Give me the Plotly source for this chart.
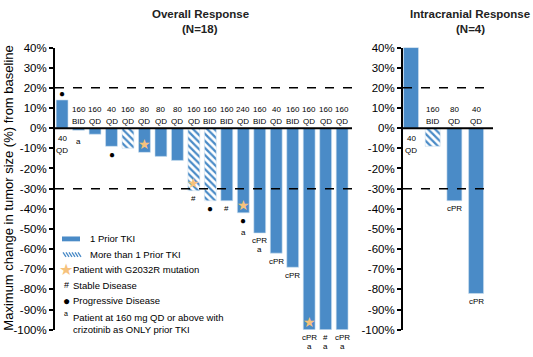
import plotly.graph_objects as go

W, H = 533, 357

# ---------------- data ----------------
overall_change = [14, -1, -3, -9, -10, -12, -14, -16, -31, -36, -36, -42, -52, -62, -69, -100, -100, -100]
overall_multi_tki = [0, 0, 0, 0, 1, 0, 0, 0, 1, 1, 0, 0, 0, 0, 0, 0, 0, 0]
overall_dose = ["40", "160", "160", "40", "160", "80", "80", "80", "160", "160", "160", "240", "160", "40", "160", "160", "160", "160"]
overall_regimen = ["QD", "BID", "QD", "QD", "QD", "QD", "QD", "QD", "QD", "BID", "BID", "QD", "BID", "QD", "BID", "QD", "QD", "QD"]
overall_g2032r = [0, 0, 0, 0, 0, 1, 0, 0, 1, 0, 0, 1, 0, 0, 0, 1, 0, 0]
overall_pd = [1, 0, 0, 1, 0, 0, 0, 0, 0, 1, 0, 1, 0, 0, 0, 0, 0, 0]
overall_sd = [0, 0, 0, 0, 0, 0, 0, 0, 1, 0, 1, 0, 0, 0, 0, 0, 1, 0]
overall_cpr = [0, 0, 0, 0, 0, 0, 0, 0, 0, 0, 0, 0, 1, 1, 1, 1, 0, 1]
overall_crizo_only = [0, 1, 0, 0, 0, 0, 0, 0, 0, 0, 0, 1, 1, 0, 0, 1, 1, 1]

ic_change = [40, -9, -36, -82]
ic_multi_tki = [0, 1, 0, 0]
ic_dose = ["40", "160", "80", "40"]
ic_regimen = ["QD", "BID", "QD", "QD"]
ic_cpr = [0, 0, 1, 1]

y_ticks = list(range(-100, 41, 10))
y_ticktext = [f"{v}%" for v in y_ticks]
ref_lines = [20, -30]

# ---------------- style ----------------
BLUE = "#4a8bc7"
STAR = "#f6c27c"
FONT = "Liberation Sans, Arial, sans-serif"
TITLE_FONT = "Liberation Sans, Arial, sans-serif"


def px(x, y):
    return x / W, 1 - y / H


x1_dom = [55 / W, 352 / W]
x2_dom = [403 / W, 493 / W]
y_dom = [1 - 335 / H, 1 - 43 / H]

fig = go.Figure()


def add_bars(vals, multi, xaxis, width):
    xs = list(range(len(vals)))
    fig.add_trace(go.Bar(
        x=xs, y=vals, width=width, xaxis=xaxis, yaxis="y" if xaxis == "x" else "y2",
        marker=dict(
            color=BLUE,
            line=dict(color="#cfe0f0", width=0.6),
            pattern=dict(shape=["\\" if m else "" for m in multi], fillmode="replace",
                         bgcolor="white", fgcolor=BLUE, size=5, solidity=0.45),
        ),
        showlegend=False, hoverinfo="skip",
    ))


add_bars(overall_change, overall_multi_tki, "x", 0.72)
add_bars(ic_change, ic_multi_tki, "x2", 0.69)

ann = []


def txt(x, y, text, xref, yref, size=8, yshift=0, xanchor="center", color="black", **kw):
    ann.append(dict(x=x, y=y, text=text, xref=xref, yref=yref, showarrow=False,
                    font=dict(family=FONT, size=size, color=color), yshift=yshift,
                    xanchor=xanchor, yanchor="middle", **kw))


def bar_labels(vals, doses, regs, xref, yref, extras):
    for i, v in enumerate(vals):
        if v >= 0:
            txt(i, 0, doses[i], xref, yref, yshift=-10)
            txt(i, 0, regs[i], xref, yref, yshift=-22)
        else:
            txt(i, 0, doses[i], xref, yref, yshift=19)
            txt(i, 0, regs[i], xref, yref, yshift=6.5)
        stack = []
        star, pd_, sd, cpr, a = extras[i]
        if star:
            txt(i, v, "★", xref, yref, size=14, yshift=8 if v < 0 else -8, color=STAR)
        if pd_:
            stack.append(("●", 10))
        if sd:
            stack.append(("#", 8))
        if cpr:
            stack.append(("cPR", 8))
        if a:
            stack.append(("a", 8))
        if v >= 0:
            for k, (t, s) in enumerate(stack):
                txt(i, v, t, xref, yref, size=s, yshift=6 + 9 * k)
        else:
            off = 11 if (i == 1 and xref == "x") else 8
            for k, (t, s) in enumerate(stack):
                if k > 0:
                    off += 12 if stack[k - 1][0] == "●" else 8.5
                txt(i, v, t, xref, yref, size=s, yshift=-off)


ov_extras = list(zip(overall_g2032r, overall_pd, overall_sd, overall_cpr, overall_crizo_only))
bar_labels(overall_change, overall_dose, overall_regimen, "x", "y", ov_extras)
ic_extras = [(0, 0, 0, c, 0) for c in ic_cpr]
bar_labels(ic_change, ic_dose, ic_regimen, "x2", "y2", ic_extras)

# reference lines and zero line
shapes = []
for xr, yr in (("x", "y"), ("x2", "y2")):
    for r in ref_lines:
        shapes.append(dict(type="line", xref=xr + " domain", yref=yr, x0=0, x1=1, y0=r, y1=r,
                           line=dict(color="black", width=1.5, dash="dash")))
    shapes.append(dict(type="line", xref=xr + " domain", yref=yr, x0=0, x1=1, y0=0, y1=0,
                       line=dict(color="black", width=2)))

# titles
for (cx, l1, l2) in ((200, "Overall Response", "(N=18)"), (470, "Intracranial Response", "(N=4)")):
    for (yy, t) in ((8, l1), (24, l2)):
        xp, yp = px(cx, yy)
        ann.append(dict(x=xp, y=yp, xref="paper", yref="paper", text=f"<b>{t}</b>", showarrow=False,
                        font=dict(family=TITLE_FONT, size=11.5, color="#222"), xanchor="center", yanchor="middle"))

# y-axis title
xp, yp = px(9, 189)
ann.append(dict(x=xp, y=yp, xref="paper", yref="paper", text="Maximum change in tumor size (%) from baseline",
                showarrow=False, textangle=-90, font=dict(family=FONT, size=13, color="black"),
                xanchor="center", yanchor="middle"))

# legend
x0, y0 = px(62, 238.5)
x1, y1 = px(80, 243.5)
shapes.append(dict(type="rect", xref="paper", yref="paper", x0=x0, x1=x1, y0=y0, y1=y1,
                   fillcolor=BLUE, line=dict(width=0)))
path = ""
for k in range(6):
    xa = 63 + 3 * k
    a0 = px(xa, 255)
    a1 = px(xa + 3, 259.5)
    path += f"M{a0[0]},{a0[1]} L{a1[0]},{a1[1]} "
shapes.append(dict(type="path", xref="paper", yref="paper", path=path, line=dict(color=BLUE, width=1.3)))

legend_rows = [
    (88, 241, "1 Prior TKI"),
    (88, 257, "More than 1 Prior TKI"),
    (71, 273, "Patient with G2032R mutation"),
    (71, 289, "Stable Disease"),
    (71, 305, "Progressive Disease"),
    (71, 322, "Patient at 160 mg QD or above with"),
    (71, 335, "crizotinib as ONLY prior TKI"),
]
for (lx, ly, t) in legend_rows:
    xp, yp = px(lx, ly)
    ann.append(dict(x=xp, y=yp, xref="paper", yref="paper", text=t, showarrow=False,
                    font=dict(family=FONT, size=9.5, color="black"), xanchor="left", yanchor="middle"))
for (lx, ly, t, s, c) in ((66, 272.5, "★", 16, STAR), (66, 289, "#", 9, "black"),
                          (66, 305, "●", 12, "black"), (66, 318, "a", 7, "black")):
    xp, yp = px(lx, ly)
    ann.append(dict(x=xp, y=yp, xref="paper", yref="paper", text=t, showarrow=False,
                    font=dict(family=FONT, size=s, color=c), xanchor="center", yanchor="middle"))

yaxis_common = dict(range=[-100, 40], tickvals=y_ticks, ticktext=y_ticktext, domain=y_dom,
                    showgrid=False, zeroline=False, showline=True, linecolor="black", linewidth=2,
                    ticks="outside", ticklen=4, tickwidth=1.5, tickcolor="black",
                    tickfont=dict(family=FONT, size=11.5, color="black"))
xaxis_common = dict(showgrid=False, zeroline=False, showline=False, showticklabels=False, ticks="")

fig.update_layout(
    width=W, height=H, autosize=False,
    margin=dict(l=0, r=0, t=0, b=0),
    paper_bgcolor="white", plot_bgcolor="white",
    xaxis=dict(domain=x1_dom, range=[-0.43, 17.6], **xaxis_common),
    xaxis2=dict(domain=x2_dom, range=[-0.37, 3.78], anchor="y2", **xaxis_common),
    yaxis=dict(anchor="x", **yaxis_common),
    yaxis2=dict(anchor="x2", **yaxis_common),
    annotations=ann, shapes=shapes, barmode="overlay",
)
fig.update_traces(cliponaxis=False)

fig.write_html("out.html", config={"displayModeBar": False},
               post_script="document.body.style.margin='0';document.body.style.overflow='hidden';")
